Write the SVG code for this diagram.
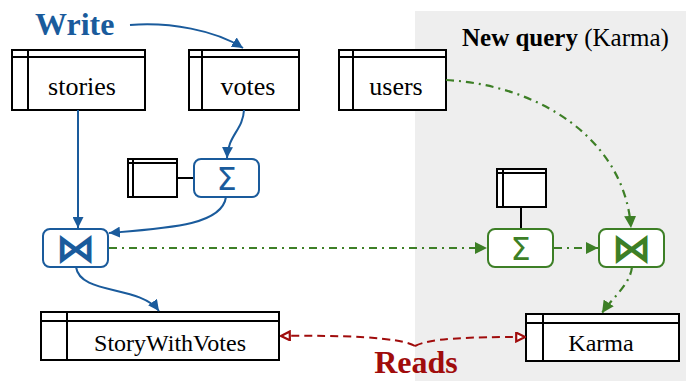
<svg xmlns="http://www.w3.org/2000/svg" width="686" height="381" viewBox="0 0 686 381">
  <style>
    .tbl { fill: #ffffff; stroke: #000000; stroke-width: 2; }
    .tline { stroke: #000000; stroke-width: 2; fill: none; }
    .serif { font-family: "Liberation Serif", "Times New Roman", serif; }
    .tlabel { font-size: 26px; fill: #000000; text-anchor: middle; }
    .blab { font-size: 24px; }
    .op-blue { fill: #ffffff; stroke: #1a5b9c; stroke-width: 2; }
    .op-green { fill: #ffffff; stroke: #3d7f26; stroke-width: 2; }
    .sym { font-family: "DejaVu Sans", "Liberation Sans", sans-serif; text-anchor: middle; }
    .e-blue { fill: none; stroke: #1a5b9c; stroke-width: 2; marker-end: url(#ah-blue); }
    .e-green { fill: none; stroke: #3d7f26; stroke-width: 2.2; stroke-dasharray: 8 5 2 5; marker-end: url(#ah-green); }
    .e-red { fill: none; stroke: #a00c0c; stroke-width: 2; stroke-dasharray: 8 5; marker-end: url(#ah-red); }
    .title { font-weight: bold; font-size: 32px; }
  </style>
  <defs>
    <marker id="ah-blue" viewBox="0 0 10 10" refX="10" refY="5" markerWidth="5.5" markerHeight="5.5" orient="auto" markerUnits="strokeWidth">
      <path d="M0,0 L10,5 L0,10 z" fill="#1a5b9c"/>
    </marker>
    <marker id="ah-green" viewBox="0 0 10 10" refX="10" refY="5" markerWidth="5.5" markerHeight="5.5" orient="auto" markerUnits="strokeWidth">
      <path d="M0,0 L10,5 L0,10 z" fill="#3d7f26"/>
    </marker>
    <marker id="ah-red" viewBox="0 0 10 10" refX="9" refY="5" markerWidth="5.5" markerHeight="5.5" orient="auto" markerUnits="strokeWidth">
      <path d="M1,1 L9,5 L1,9 z" fill="#ffffff" stroke="#a00c0c" stroke-width="2" stroke-dasharray="none"/>
    </marker>
  </defs>

  <!-- shaded region for the newly added query -->
  <rect x="415" y="11" width="271" height="370" fill="#eeeeee"/>
  <text class="serif" x="462" y="46" font-size="25" fill="#000"><tspan font-weight="bold">New query</tspan> (Karma)</text>

  <!-- labels -->
  <text class="serif title" x="35" y="35" fill="#1a5b9c">Write</text>
  <text class="serif title" x="416" y="373" fill="#a00c0c" text-anchor="middle">Reads</text>

  <!-- base tables -->
  <g id="stories">
    <rect class="tbl" x="12" y="50" width="133" height="60"/>
    <path class="tline" d="M12,57 H145 M28,50 V110"/>
    <text class="serif tlabel" x="82" y="95">stories</text>
  </g>
  <g id="votes">
    <rect class="tbl" x="189" y="50" width="110" height="60"/>
    <path class="tline" d="M189,57 H299 M202,50 V110"/>
    <text class="serif tlabel" x="248" y="95">votes</text>
  </g>
  <g id="users">
    <rect class="tbl" x="339" y="50" width="107" height="60"/>
    <path class="tline" d="M339,57 H446 M353,50 V110"/>
    <text class="serif tlabel" x="396" y="95">users</text>
  </g>

  <!-- aggregation state tables -->
  <g id="vote-count-state">
    <rect class="tbl" x="128" y="159" width="49" height="38"/>
    <path class="tline" d="M128,163 H177 M133,159 V197 M177,178 H194"/>
  </g>
  <g id="karma-state">
    <rect class="tbl" x="497" y="169" width="49" height="38"/>
    <path class="tline" d="M497,173 H546 M503,169 V207 M521,207 V229"/>
  </g>

  <!-- operators -->
  <g id="vote-count">
    <rect class="op-blue" x="194" y="159" width="65" height="38" rx="7"/>
    <text class="sym" x="226.5" y="190" font-size="32" fill="#1a5b9c">Σ</text>
  </g>
  <g id="story-join">
    <rect class="op-blue" x="43" y="229" width="65" height="38" rx="7"/>
    <text class="sym" x="75.5" y="262" font-size="40" font-weight="bold" fill="#1a5b9c">⋈</text>
  </g>
  <g id="karma-sum">
    <rect class="op-green" x="488" y="229" width="65" height="38" rx="7"/>
    <text class="sym" x="520.5" y="260" font-size="32" fill="#3d7f26">Σ</text>
  </g>
  <g id="karma-join">
    <rect class="op-green" x="599" y="229" width="65" height="38" rx="7"/>
    <text class="sym" x="631.5" y="262" font-size="40" font-weight="bold" fill="#3d7f26">⋈</text>
  </g>

  <!-- views -->
  <g id="story-with-votes">
    <rect class="tbl" x="41" y="312" width="238" height="48"/>
    <path class="tline" d="M41,321 H279 M67,312 V360"/>
    <text class="serif tlabel blab" x="170" y="351">StoryWithVotes</text>
  </g>
  <g id="karma">
    <rect class="tbl" x="526" y="314" width="153" height="47"/>
    <path class="tline" d="M526,323 H679 M543,314 V361"/>
    <text class="serif tlabel blab" x="601" y="351">Karma</text>
  </g>

  <!-- dataflow edges -->
  <g id="edges">
    <path class="e-blue" d="M130,25 C170,22 215,30 243,48"/>
    <path class="e-blue" d="M78,110 V228"/>
    <path class="e-blue" d="M244,110 C243,130 228,135 227,158"/>
    <path class="e-blue" d="M226,197 C222,225 170,228 109,233"/>
    <path class="e-blue" d="M76,267 C80,295 140,285 159,311"/>
    <path class="e-green" d="M109,248 H487"/>
    <path class="e-green" d="M554,248 H598"/>
    <path class="e-green" d="M446,80 C540,85 625,140 631,228"/>
    <path class="e-green" d="M632,267 C630,285 612,298 602,313"/>
    <path class="e-red" d="M415,346 C400,337 340,335 281,336"/>
    <path class="e-red" d="M415,346 C430,338 470,337 525,337"/>
  </g>
</svg>
